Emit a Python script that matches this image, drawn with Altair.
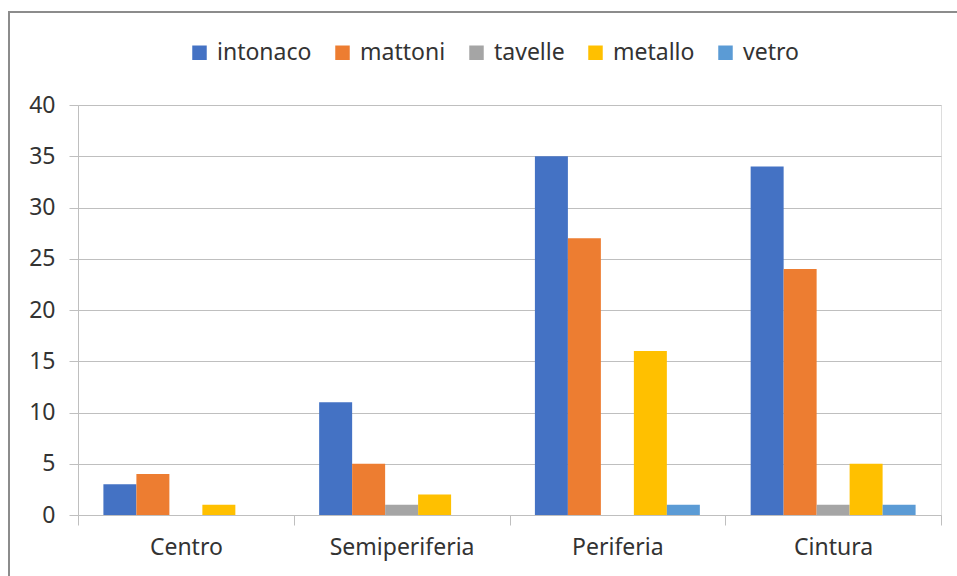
import altair as alt
import pandas as pd

categories = ["Centro", "Semiperiferia", "Periferia", "Cintura"]
series = ["intonaco", "mattoni", "tavelle", "metallo", "vetro"]
intonaco = [3, 11, 35, 34]
mattoni = [4, 5, 27, 24]
tavelle = [0, 1, 0, 1]
metallo = [1, 2, 16, 5]
vetro = [0, 0, 1, 1]
colors = ["#4472C4", "#ED7D31", "#A5A5A5", "#FFC000", "#5B9BD5"]

values = {"intonaco": intonaco, "mattoni": mattoni, "tavelle": tavelle,
          "metallo": metallo, "vetro": vetro}
rows = []
for s in series:
    for c, v in zip(categories, values[s]):
        rows.append({"zona": c, "materiale": s, "valore": v})
df = pd.DataFrame(rows)

FONT = "Noto Sans"
GRID = "#BFBFBF"
TXT = "#333333"

bars = alt.Chart(df).mark_bar().encode(
    x=alt.X("zona:N", sort=categories, title=None,
            scale=alt.Scale(paddingInner=0, paddingOuter=0),
            axis=alt.Axis(labelAngle=0, tickBand="extent", tickSize=10,
                          tickColor=GRID, domainColor=GRID, labelPadding=11,
                          labelFontSize=23, labelFont=FONT, labelColor=TXT,
                          grid=False)),
    xOffset=alt.XOffset("materiale:N", sort=series,
                        scale=alt.Scale(paddingInner=0, paddingOuter=0.77)),
    y=alt.Y("valore:Q", title=None,
            scale=alt.Scale(domain=[0, 40]),
            axis=alt.Axis(values=[0, 5, 10, 15, 20, 25, 30, 35, 40],
                          tickSize=9, tickColor=GRID, domainColor=GRID,
                          gridColor=GRID, labelPadding=14, labelFontSize=23,
                          labelFont=FONT, labelColor=TXT)),
    color=alt.Color("materiale:N", sort=series,
                    scale=alt.Scale(domain=series, range=colors),
                    legend=alt.Legend(title=None, orient="none", direction="horizontal",
                                      legendX=110, legendY=-64,
                                      symbolType="square", symbolSize=210,
                                      symbolStrokeWidth=0, labelFontSize=23,
                                      labelFont=FONT, labelColor=TXT,
                                      labelOffset=6, columnPadding=19)),
)

frame_df = pd.DataFrame({"k": [0]})
frame = alt.Chart(frame_df).mark_rect(fill=None, stroke="#8C8C8C", strokeWidth=2).encode(
    x=alt.value(-69), x2=alt.value(900), y=alt.value(-93), y2=alt.value(500)
)

chart = alt.layer(frame, bars).properties(
    width=863, height=410,
    autosize=alt.AutoSizeParams(type="none"),
    padding={"left": 78, "top": 105, "right": 16, "bottom": 61},
).configure_view(stroke=None).configure(background="white")

chart.save("out.html", embed_options={"renderer": "svg", "actions": False})
